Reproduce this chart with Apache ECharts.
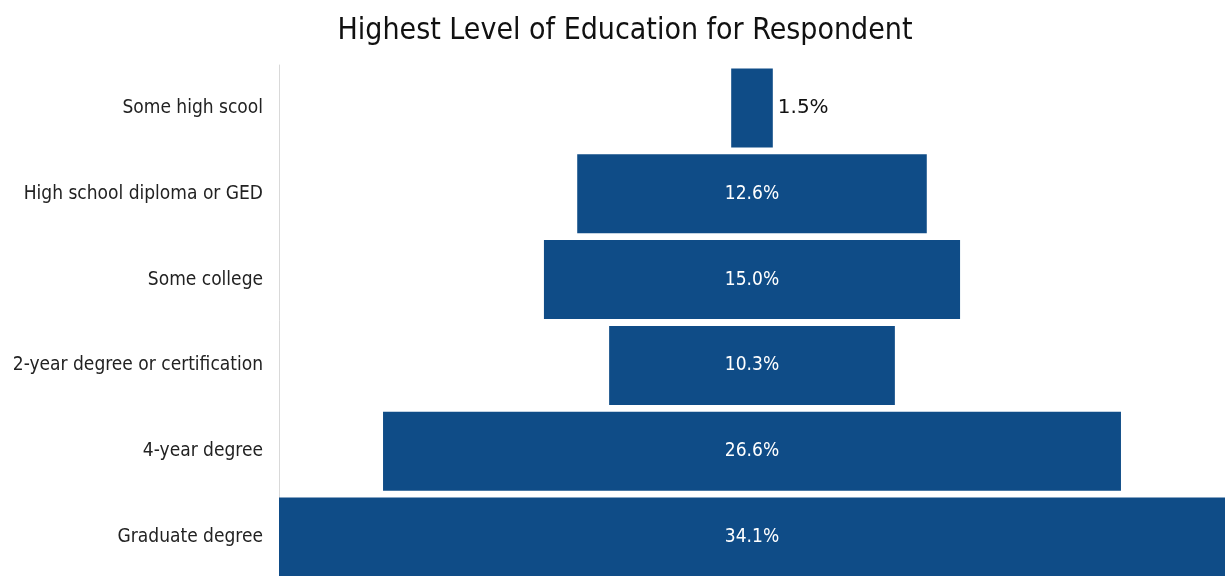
<!DOCTYPE html>
<html>
<head>
<meta charset="utf-8">
<script src="https://cdn.jsdelivr.net/npm/echarts@6/dist/echarts.min.js"></script>
<style>html,body{margin:0;padding:0;background:#fff}#c{width:1229px;height:576px}</style>
</head>
<body>
<div id="c"></div>
<script>
const categories = ["Some high scool","High school diploma or GED","Some college","2-year degree or certification","4-year degree","Graduate degree"];
const values = [1.5, 12.6, 15.0, 10.3, 26.6, 34.1];
const maxValue = 34.1;

const cats = categories.slice().reverse();
const vals = values.slice().reverse();
const offsets = vals.map(v => (maxValue - v) / 2);
const FONT = '"DejaVu Sans Condensed","Liberation Sans Narrow",sans-serif';

const chart = echarts.init(document.getElementById('c'));
chart.setOption({
  animation: false,
  title: {
    text: 'Highest Level of Education for Respondent',
    left: 620, top: 11, textAlign: 'center',
    textStyle: {fontFamily: FONT, fontSize: 30, fontWeight: 'normal', color: '#111'}
  },
  grid: {left: 279, right: 4, top: 65, height: 515, containLabel: false, outerBoundsMode: 'none'},
  xAxis: {type: 'value', min: 0, max: maxValue, show: false},
  yAxis: {
    type: 'category', data: cats,
    axisLine: {show: true, lineStyle: {color: '#d9d9d9', width: 1}},
    axisTick: {show: false},
    axisLabel: {fontFamily: FONT, fontSize: 19, color: '#222', margin: 16}
  },
  series: [
    {type: 'bar', stack: 't', data: offsets, itemStyle: {color: 'transparent'}, barCategoryGap: '8%', silent: true},
    {type: 'bar', stack: 't', data: vals.map(v => ({
        value: v,
        label: v < 5 ? {position: 'right', color: '#111', fontFamily: '"DejaVu Sans",sans-serif', fontSize: 20, distance: 5} : {}
      })),
     barCategoryGap: '8%',
     itemStyle: {color: '#0f4c87'},
     label: {show: true, position: 'inside', color: '#fff', fontFamily: FONT, fontSize: 19,
       formatter: p => p.value.toFixed(1) + '%'}
    }
  ]
});
</script>
</body>
</html>
